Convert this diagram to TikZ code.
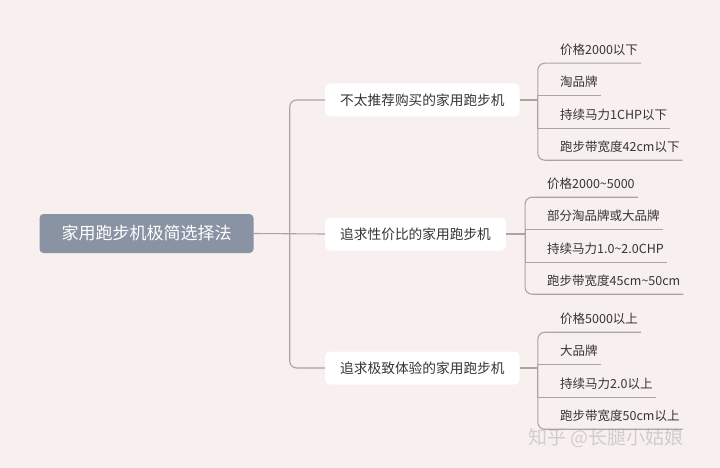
\documentclass[tikz,border=0pt]{standalone}
\usepackage{fontspec}
\setmainfont{Noto Sans CJK SC}
\usepackage{tikz}
\usetikzlibrary{positioning}
\usepackage{xcolor}
\definecolor{PaperPink}{HTML}{F7F0EF}
\definecolor{RootSlate}{HTML}{8A93A3}
\definecolor{LinkGray}{HTML}{ABA4A4}
\definecolor{InkGray}{HTML}{363434}
\definecolor{MarkGray}{HTML}{D2CCCC}

\begin{document}
\begin{tikzpicture}[x=1pt,y=-1pt,
  rootbox/.style={rounded corners=4pt,fill=RootSlate,text=white,font=\fontsize{17}{20}\selectfont,minimum height=39pt,inner xsep=22pt},
  topicbox/.style={rounded corners=5pt,fill=white,text=InkGray,font=\fontsize{13.7}{16}\selectfont,minimum height=33pt,inner xsep=15pt,anchor=west},
  leafnote/.style={text=InkGray,font=\fontsize{12.5}{15}\selectfont,minimum height=26pt,inner ysep=0pt,inner xsep=3pt,anchor=west},
  link/.style={draw=LinkGray,line width=1.1pt}]
\fill[PaperPink] (0,0) rectangle (720,468);
\node[rootbox] (root) at (146.5,233.5) {家用跑步机极简选择法};
\node[topicbox] (cheap) at (325,100) {不太推荐购买的家用跑步机};
\node[topicbox] (value) at (325,234) {追求性价比的家用跑步机};
\node[topicbox] (premium) at (325,368) {追求极致体验的家用跑步机};
\node[leafnote] (c1) at (557,50) {价格2000以下};
\node[leafnote] (c2) at (557,82) {淘品牌};
\node[leafnote] (c3) at (557,115) {持续马力1CHP以下};
\node[leafnote] (c4) at (557,147) {跑步带宽度42cm以下};
\node[leafnote] (v1) at (544,184) {价格2000\textasciitilde5000};
\node[leafnote] (v2) at (544,216) {部分淘品牌或大品牌};
\node[leafnote] (v3) at (544,249) {持续马力1.0\textasciitilde2.0CHP};
\node[leafnote] (v4) at (544,281) {跑步带宽度45cm\textasciitilde50cm};
\node[leafnote] (p1) at (557,319) {价格5000以上};
\node[leafnote] (p2) at (557,351) {大品牌};
\node[leafnote] (p3) at (557,384) {持续马力2.0以上};
\node[leafnote] (p4) at (557,416) {跑步带宽度50cm以上};
\node[text=MarkGray,font=\fontsize{19}{22}\selectfont,anchor=west] (mark) at (525,438) {知乎 @长腿小姑娘};
\coordinate (hub) at ([xshift=36pt]root.east);
\coordinate (cheapj) at ([xshift=18pt]cheap.east);
\coordinate (valuej) at ([xshift=19pt]value.east);
\coordinate (premiumj) at ([xshift=18pt]premium.east);
% trunk
\draw[link] (root.east) -- (value.west);
\draw[link,rounded corners=7pt] (hub) |- (cheap.west);
\draw[link,rounded corners=7pt] (hub) |- (premium.west);
% leaves
\draw[link] (cheap.east) -- (cheapj);
\draw[link,rounded corners=7pt] (cheapj) |- (c1.south east);
\draw[link] (cheapj) |- (c2.south east);\draw[link] (cheapj) |- (c3.south east);
\draw[link,rounded corners=7pt] (cheapj) |- (c4.south east);
\draw[link] (value.east) -- (valuej);
\draw[link,rounded corners=7pt] (valuej) |- (v1.south east);
\draw[link] (valuej) |- (v2.south east);\draw[link] (valuej) |- (v3.south east);
\draw[link,rounded corners=7pt] (valuej) |- (v4.south east);
\draw[link] (premium.east) -- (premiumj);
\draw[link,rounded corners=7pt] (premiumj) |- (p1.south east);
\draw[link] (premiumj) |- (p2.south east);\draw[link] (premiumj) |- (p3.south east);
\draw[link,rounded corners=7pt] (premiumj) |- (p4.south east);
\end{tikzpicture}
\end{document}
